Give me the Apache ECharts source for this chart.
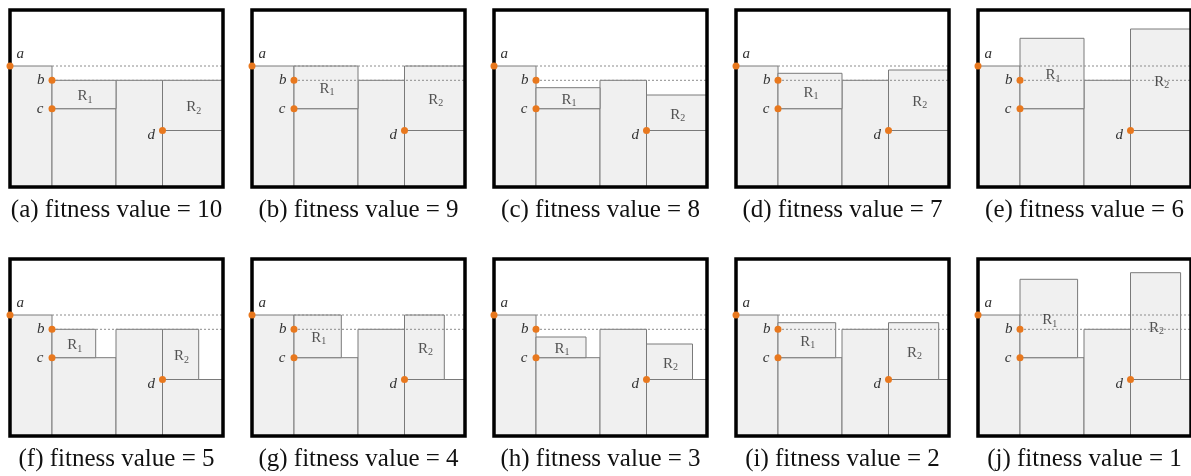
<!DOCTYPE html>
<html>
<head>
<meta charset="utf-8">
<script src="https://cdn.jsdelivr.net/npm/echarts@6/dist/echarts.min.js"></script>
<style>
  html, body { margin: 0; padding: 0; background: #fff; }
  #chart { width: 1191px; height: 476px; }
</style>
</head>
<body>
<div id="chart"></div>
<script>
// panel captions
const panelTags = ['a', 'b', 'c', 'd', 'e', 'f', 'g', 'h', 'i', 'j'];
const fitnessValues = [10, 9, 8, 7, 6, 5, 4, 3, 2, 1];

// box size in data units (border centre to border centre)
const boxWidth = 213;
const boxHeight = 177;

// corner points a, b, c, d
const pointNames = ['a', 'b', 'c', 'd'];
const pointX = [0, 42, 42, 152.5];
const pointY = [121, 106.7, 78.3, 56.5];

// skyline of already packed items
const columnX = [0, 42, 106, 152.5, 213];
const columnTop = [121, 78.3, 106.7, 56.5];

// R1 sits on c, R2 sits on d
const r1Right = [106, 106, 106, 106, 106, 85.7, 89.3, 92, 99.7, 99.6];
const r1Top = [106.7, 121, 99.3, 113.7, 148.7, 106.7, 121, 99, 113.3, 156.7];
const r2Right = [213, 213, 213, 213, 213, 188.7, 192.3, 198.5, 202.7, 202.6];
const r2Top = [106.7, 121, 92, 117, 158, 106.7, 121, 92, 113.3, 163.3];

const serif = '"Liberation Serif", "Times New Roman", serif';
const lineGray = '#7a7a7a';
const fillGray = '#f0f0f0';
const orange = '#e8781e';

const chart = echarts.init(document.getElementById('chart'));

const grids = [], xAxes = [], yAxes = [], series = [], graphics = [];

function rectItem(params, api) {
    const p0 = api.coord([api.value(0), api.value(1)]);
    const p1 = api.coord([api.value(2), api.value(3)]);
    return {
        type: 'rect',
        shape: { x: p0[0], y: p1[1], width: p1[0] - p0[0], height: p0[1] - p1[1] },
        style: { fill: fillGray, stroke: lineGray, lineWidth: 1 }
    };
}

panelTags.forEach((tag, i) => {
    const col = i % 5;
    const row = Math.floor(i / 5);
    const left = 10 + 242 * col;
    const top = row === 0 ? 10 : 259;

    grids.push({ left: left, top: top, width: boxWidth, height: boxHeight, show: false, outerBoundsMode: 'none' });
    xAxes.push({ type: 'value', gridIndex: i, min: 0, max: boxWidth, show: false });
    yAxes.push({ type: 'value', gridIndex: i, min: 0, max: boxHeight, show: false });

    // packed columns + the two candidate rectangles
    const blocks = [];
    for (let k = 0; k < columnTop.length; k++) {
        blocks.push([columnX[k], 0, columnX[k + 1], columnTop[k]]);
    }
    blocks.push([pointX[2], pointY[2], r1Right[i], r1Top[i]]);
    blocks.push([pointX[3], pointY[3], r2Right[i], r2Top[i]]);

    series.push({
        type: 'custom',
        xAxisIndex: i, yAxisIndex: i,
        renderItem: rectItem,
        data: blocks,
        z: 2,
        silent: true
    });

    // dotted guides at the heights of a and b
    series.push({
        type: 'custom',
        xAxisIndex: i, yAxisIndex: i,
        renderItem: (params, api) => {
            const p0 = api.coord([api.value(0), api.value(2)]);
            const p1 = api.coord([api.value(1), api.value(2)]);
            return {
                type: 'line',
                shape: { x1: p0[0], y1: p0[1], x2: p1[0], y2: p1[1] },
                style: { stroke: '#8c8c8c', lineWidth: 1, lineDash: [2, 2] }
            };
        },
        data: [[pointX[1], boxWidth, pointY[0]], [pointX[1], boxWidth, pointY[1]]],
        z: 3,
        silent: true
    });

    // R1 / R2 labels at the centre of each rectangle
    series.push({
        type: 'scatter',
        xAxisIndex: i, yAxisIndex: i,
        symbolSize: 1,
        itemStyle: { color: 'transparent' },
        label: {
            show: true,
            position: 'inside',
            offset: [1, 2],
            formatter: p => '{r|R}{s|' + p.data[2] + '}',
            rich: {
                r: { fontFamily: serif, fontSize: 15, color: '#2a2a2a' },
                s: { fontFamily: serif, fontSize: 10, color: '#2a2a2a', padding: [7, 0, 0, 0] }
            }
        },
        data: [
            [(pointX[2] + r1Right[i]) / 2, (pointY[2] + r1Top[i]) / 2, 1],
            [(pointX[3] + r2Right[i]) / 2, (pointY[3] + r2Top[i]) / 2, 2]
        ],
        z: 4,
        silent: true
    });

    // thick outer frame
    series.push({
        type: 'custom',
        xAxisIndex: i, yAxisIndex: i,
        renderItem: (params, api) => {
            const p0 = api.coord([0, 0]);
            const p1 = api.coord([boxWidth, boxHeight]);
            return {
                type: 'rect',
                shape: { x: p0[0], y: p1[1], width: p1[0] - p0[0], height: p0[1] - p1[1] },
                style: { fill: 'none', stroke: '#000', lineWidth: 3.5 }
            };
        },
        data: [[0]],
        z: 5,
        silent: true
    });

    // corner points with italic letters
    const labelPos = [
        { position: 'right', distance: 3, offset: [0, -12] },
        { position: 'left', distance: 4, offset: [0, 0] },
        { position: 'left', distance: 5, offset: [0, 0] },
        { position: 'left', distance: 4, offset: [0, 5] }
    ];
    series.push({
        type: 'scatter',
        xAxisIndex: i, yAxisIndex: i,
        symbolSize: 7,
        itemStyle: { color: orange, opacity: 1 },
        data: pointNames.map((n, k) => ({
            value: [pointX[k], pointY[k]],
            label: Object.assign({
                show: true,
                formatter: n,
                fontFamily: serif,
                fontStyle: 'italic',
                fontSize: 15,
                color: '#333'
            }, labelPos[k])
        })),
        z: 6,
        silent: true
    });

    graphics.push({
        type: 'text',
        x: left + boxWidth / 2,
        y: top + 200,
        style: {
            text: '(' + tag + ') fitness value = ' + fitnessValues[i],
            font: '25px ' + serif,
            fill: '#111',
            textAlign: 'center',
            textVerticalAlign: 'middle'
        }
    });
});

chart.setOption({
    animation: false,
    grid: grids,
    xAxis: xAxes,
    yAxis: yAxes,
    series: series,
    graphic: graphics
});
</script>
</body>
</html>
